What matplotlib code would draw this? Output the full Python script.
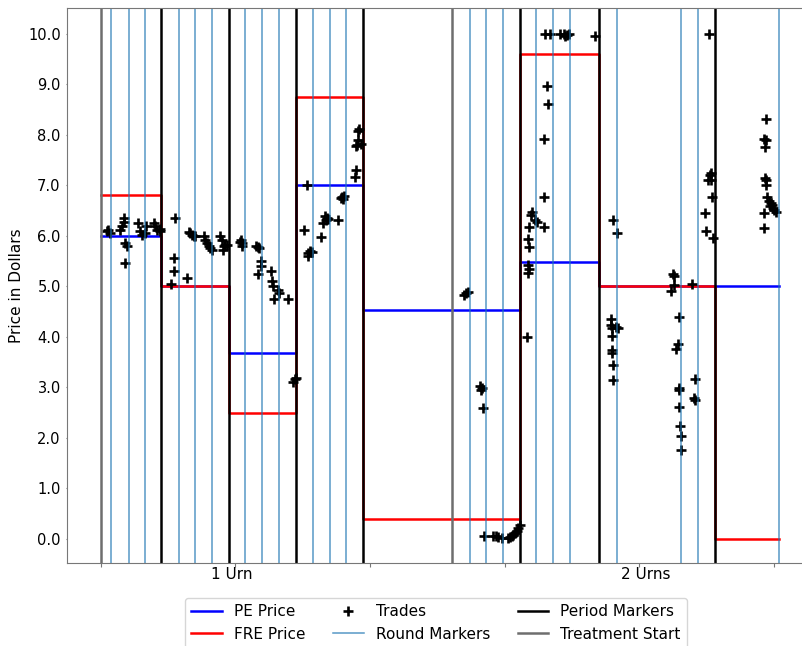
import matplotlib
matplotlib.use("Agg")
import matplotlib.pyplot as plt
from matplotlib.ticker import FixedLocator, NullFormatter, FixedFormatter, FormatStrFormatter

# Session timeline: treatment starts, period boundaries and round boundaries
treatment_starts = [0.0, 261.0]
period_markers = [45.0, 95.0, 145.1, 194.6, 311.2, 369.7, 455.9]
round_markers = [7.8, 20.7, 32.6, 57.8, 70.3, 82.7, 107.4, 119.9, 132.2,
                 157.5, 170.1, 182.5, 274.0, 286.4, 299.0, 323.6, 335.9,
                 348.6, 383.5, 430.9, 443.3, 503.7]

# Theoretical prices per period (value holds up to each period end)
price_x = [0.0, 45.0, 95.0, 145.1, 194.6, 311.2, 369.7, 455.9, 503.7]
pe_price = [6.0, 6.0, 5.0, 3.68, 7.0, 4.52, 5.48, 5.0, 5.0]
fre_price = [6.8, 6.8, 5.0, 2.5, 8.75, 0.4, 9.6, 5.0, 0.0]

# Trades
trade_x = [
    4.6, 5.8, 7.1, 14.5, 15.8, 17.0, 17.5, 17.7, 19.5, 18.2, 27.4, 29.4,
    30.6, 33.1, 33.8, 39.8, 40.5, 41.8, 43.7, 44.2,
    52.2, 54.6, 54.6, 54.9, 64.1, 65.3, 66.5, 67.8, 69.0, 70.3, 76.4, 77.7,
    79.0, 80.1, 81.4, 82.7, 88.3, 90.1, 90.9, 91.3, 92.6, 93.8,
    104.2, 104.7, 105.2, 103.3, 115.1, 116.6, 117.8, 119.1, 119.1, 117.1,
    126.5, 127.0, 128.3, 132.0, 132.5, 129.0, 139.4, 143.1, 144.4, 145.1,
    151.1, 153.5, 154.3, 155.5, 153.8, 156.7, 163.7, 166.7, 167.9, 167.1,
    165.4, 169.1, 176.6, 179.0, 180.3, 181.0, 178.3, 188.5, 189.4, 189.7,
    190.9, 191.4, 192.0, 193.5, 190.2,
    270.0, 271.0, 272.5, 281.6, 282.9, 282.4, 283.6, 284.9, 291.6, 293.3,
    295.3, 297.8, 302.6, 303.9, 305.2, 306.5, 307.7, 308.9, 310.2, 311.4,
    317.6, 318.1, 317.1, 316.4, 318.1, 317.6, 318.4, 320.1, 319.6, 322.5,
    323.8, 329.5, 329.5, 329.5, 332.0, 331.7, 330.0, 333.7, 341.1, 343.7,
    344.9, 346.2, 347.4, 366.7,
    380.8, 383.5, 378.6, 379.0, 379.6, 382.8, 384.0, 379.6, 379.6, 379.8,
    380.3, 380.3, 424.9, 425.7, 425.4, 423.2, 429.1, 428.6, 427.4, 429.1,
    429.1, 429.4, 430.3, 430.6, 431.1, 439.3, 441.0, 440.5, 441.0, 451.8,
    452.9, 452.2, 450.9, 453.4, 453.9, 448.9, 449.7, 454.6,
    493.8, 492.6, 493.8, 493.3, 493.1, 493.8, 494.3, 495.0, 496.3, 497.5,
    498.7, 499.5, 500.0, 501.3, 497.0, 492.6, 492.6,
]
trade_y = [
    6.09, 6.12, 6.05, 6.12, 6.20, 6.35, 6.28, 5.85, 5.80, 5.46, 6.25, 6.10,
    6.02, 6.05, 6.20, 6.26, 6.19, 6.12, 6.10, 6.14,
    5.04, 5.56, 5.31, 6.36, 5.16, 6.08, 6.05, 6.02, 5.99, 6.00, 5.99, 5.92,
    5.85, 5.79, 5.76, 5.72, 6.00, 5.92, 5.72, 5.79, 5.82, 5.81,
    5.92, 5.85, 5.80, 5.88, 5.80, 5.78, 5.76, 5.51, 5.41, 5.25,
    5.31, 5.11, 5.01, 4.92, 4.87, 4.75, 4.75, 3.11, 3.16, 3.18,
    6.12, 7.01, 5.66, 5.69, 5.60, 5.67, 5.97, 6.40, 6.35, 6.32,
    6.25, 6.33, 6.32, 6.77, 6.73, 6.79, 6.75, 7.16, 7.31, 7.77,
    7.90, 8.07, 8.11, 7.82, 7.80,
    4.82, 4.87, 4.88, 3.03, 2.98, 2.94, 2.59, 0.05, 0.05, 0.05,
    0.04, 0.02, 0.02, 0.03, 0.05, 0.07, 0.11, 0.16, 0.21, 0.27,
    5.43, 5.34, 5.27, 4.00, 5.77, 5.93, 6.18, 6.47, 6.42, 6.32,
    6.28, 6.18, 6.77, 7.92, 8.61, 8.96, 10.0, 10.0, 10.0, 10.0,
    9.95, 9.98, 10.0, 9.96,
    6.31, 6.05, 4.36, 4.24, 4.17, 4.19, 4.17, 4.01, 3.74, 3.68,
    3.45, 3.15, 5.25, 5.21, 5.02, 4.91, 4.40, 3.86, 3.76, 2.98,
    2.95, 2.60, 2.24, 2.03, 1.75, 5.05, 3.16, 2.79, 2.75, 10.0,
    7.25, 7.21, 7.11, 7.11, 6.76, 6.46, 6.10, 5.95,
    8.31, 7.92, 7.90, 7.76, 7.15, 7.11, 7.01, 6.77, 6.68, 6.65,
    6.61, 6.55, 6.51, 6.48, 6.58, 6.45, 6.16,
]

# Treatment labels on the x axis
treatment_names = ["1 Urn", "2 Urns"]
treatment_label_x = [97.3, 405.0]
axis_ticks = [0, 100, 200, 300, 400, 500]
price_ticks = [0, 1, 2, 3, 4, 5, 6, 7, 8, 9, 10]

fig = plt.figure(figsize=(8.03, 6.46), dpi=100)
ax = fig.add_axes([67 / 803, 1 - 563 / 646, (805 - 67) / 803, (563 - 8) / 646])

ax.plot(price_x, pe_price, drawstyle="steps-pre", color="blue", lw=1.8,
        label="PE Price")
ax.plot(price_x, fre_price, drawstyle="steps-pre", color="red", lw=1.8,
        label="FRE Price")
ax.plot(trade_x, trade_y, linestyle="none", marker="+", color="black",
        ms=6.5, mew=1.9, label="Trades")

for i, x in enumerate(round_markers):
    ax.axvline(x, color="#1f77b4", lw=1.1, alpha=0.75,
               label="Round Markers" if i == 0 else None)
for i, x in enumerate(period_markers):
    ax.axvline(x, color="black", lw=1.8,
               label="Period Markers" if i == 0 else None)
for i, x in enumerate(treatment_starts):
    ax.axvline(x, color="#6e6e6e", lw=1.8,
               label="Treatment Start" if i == 0 else None)

ax.set_xlim(-25, 523)
ax.set_ylim(-0.48, 10.51)

ax.xaxis.set_major_locator(FixedLocator(axis_ticks))
ax.xaxis.set_major_formatter(NullFormatter())
ax.xaxis.set_minor_locator(FixedLocator(treatment_label_x))
ax.xaxis.set_minor_formatter(FixedFormatter(treatment_names))
ax.tick_params(axis="x", which="major", length=3, color="#777777")
ax.tick_params(axis="x", which="minor", length=0, labelsize=11, pad=3)

ax.set_yticks(price_ticks)
ax.yaxis.set_major_formatter(FormatStrFormatter("%.1f"))
ax.tick_params(axis="y", labelsize=10.5, length=1, color="#777777")
ax.set_ylabel("Price in Dollars", fontsize=11, labelpad=3)

for s in ax.spines.values():
    s.set_color("#777777")

ax.legend(loc="upper center", bbox_to_anchor=(0.5, -0.049), ncol=3,
          fontsize=11, frameon=True, handlelength=2.0, columnspacing=1.8)

fig.savefig("out.png", dpi=100)
